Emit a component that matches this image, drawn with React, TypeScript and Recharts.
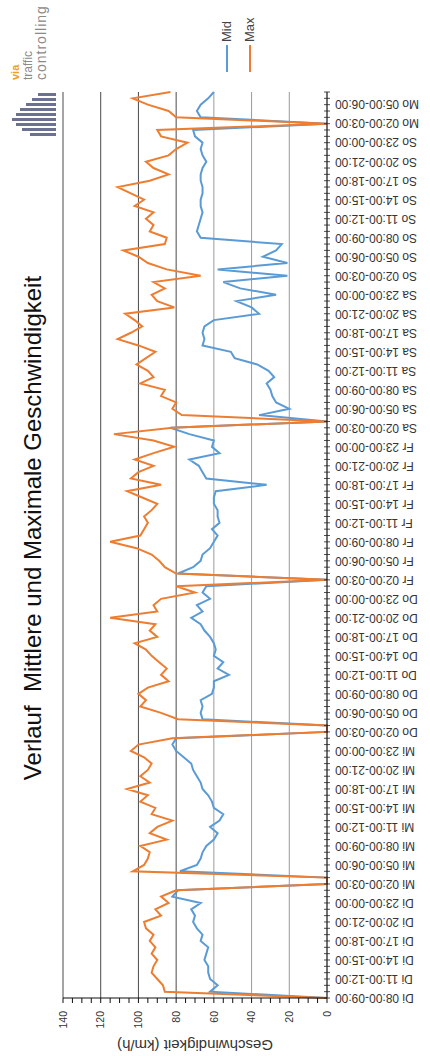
import React from 'react';
import { LineChart, Line, XAxis, YAxis, ReferenceLine, Legend } from 'recharts';

// hourly categories, Di 08:00 .. Mo 07:00
const dayNames = ['Di', 'Mi', 'Do', 'Fr', 'Sa', 'So', 'Mo'];
const startHour = 8;
const hourCount = 144;

const pad = (n: number) => String(n).padStart(2, '0');
const categories: string[] = Array.from({ length: hourCount }, (_, i) => {
  const h = (startHour + i) % 24;
  const d = Math.floor((startHour + i) / 24);
  return `${dayNames[d]} ${pad(h)}:00-${pad((h + 1) % 24)}:00`;
});

// mittlere Geschwindigkeit (km/h)
const midValues = [
  0, 62, 58, 62, 63, 63, 65, 64, 63, 67, 66, 69, 71, 70, 72, 67, 82, 79, 0, 0,
  78, 69, 67, 66, 64, 60, 58, 62, 57, 55, 60, 61, 63, 66, 67, 69, 71, 72, 76, 80,
  82, 80, 0, 0, 66, 67, 66, 67, 61, 60, 60, 52, 58, 55, 60, 59, 60, 62, 65, 67,
  72, 66, 69, 62, 66, 64, 0, 79, 71, 67, 66, 62, 60, 58, 61, 57, 58, 58, 60, 60,
  59, 32, 64, 66, 68, 73, 57, 61, 60, 73, 83, 0, 36, 20, 27, 29, 30, 32, 28, 31,
  37, 49, 51, 66, 65, 66, 65, 60, 36, 40, 48, 27, 46, 55, 21, 58, 21, 34, 27, 24,
  67, 69, 68, 67, 66, 67, 67, 66, 66, 67, 67, 66, 64, 66, 67, 66, 70, 71, 0, 67,
  69, 67, 63, 60,
];

// maximale Geschwindigkeit (km/h)
const maxValues = [
  0, 86, 87, 90, 93, 92, 90, 93, 91, 94, 92, 96, 97, 88, 91, 84, 88, 80, 0, 0,
  103, 97, 95, 94, 99, 85, 94, 90, 82, 93, 91, 99, 95, 106, 94, 99, 95, 93, 97, 104,
  100, 82, 0, 0, 79, 88, 99, 96, 100, 95, 84, 88, 85, 89, 93, 96, 102, 90, 94, 91,
  115, 90, 92, 88, 70, 80, 0, 80, 86, 89, 93, 101, 115, 99, 97, 95, 97, 93, 90, 98,
  106, 88, 104, 100, 92, 102, 92, 81, 92, 113, 82, 0, 77, 82, 80, 88, 86, 99, 92, 95,
  101, 96, 91, 100, 111, 104, 98, 102, 107, 81, 90, 93, 86, 92, 67, 85, 95, 100, 108, 86,
  85, 94, 92, 96, 92, 102, 97, 104, 111, 94, 84, 92, 96, 84, 80, 74, 88, 90, 0, 80,
  84, 95, 103, 83,
];

const valueTicks = [0, 5, 10, 15, 20, 25, 30, 35, 40, 45, 50, 55, 60, 65, 70, 75, 80, 85, 90, 95, 100, 105, 110, 115, 120, 125, 130, 135, 140];
const gridValues = [20, 40, 60, 80, 100, 120, 140];
const legendOrder = ['mid', 'max'];

const chartData = categories.map((label, i) => ({
  label,
  mid: midValues[i],
  max: maxValues[i],
}));

const FONT = '"Liberation Sans", Arial, sans-serif';

const CategoryTick = (props: any) => {
  const { x, y, payload, index } = props;
  const idx = payload && payload.index != null ? payload.index : index;
  return (
    <g>
      <line x1={x} x2={x} y1={y - 3} y2={y + 3} stroke="#222" strokeWidth={0.8} />
      {idx % 3 === 0 && (
        <text
          x={x}
          y={y + 8}
          transform={`rotate(-90, ${x}, ${y + 8})`}
          textAnchor="end"
          dy="0.35em"
          fontSize={12}
          fontFamily={FONT}
          fill="#333"
        >
          {payload.value}
        </text>
      )}
    </g>
  );
};

const renderLegend = (props: any) => {
  const items = [...(props.payload || [])].sort(
    (a: any, b: any) => legendOrder.indexOf(a.dataKey) - legendOrder.indexOf(b.dataKey)
  );
  return (
    <div style={{ position: 'relative', width: 0, height: 0 }}>
      {items.map((entry: any, k: number) => (
        <div
          key={entry.value}
          style={{
            position: 'absolute',
            left: 984,
            top: 218 + k * 23,
            display: 'flex',
            alignItems: 'center',
            whiteSpace: 'nowrap',
            fontFamily: FONT,
            fontSize: 13,
            color: '#444',
            lineHeight: '18px',
          }}
        >
          <span style={{ display: 'inline-block', width: 27, height: 2, background: entry.color, marginRight: 3 }} />
          <span>{entry.value}</span>
        </div>
      ))}
    </div>
  );
};

const logoBars = [
  { x: 2, h: 26 }, { x: 7, h: 34 }, { x: 12, h: 40 }, { x: 17, h: 44 }, { x: 22, h: 40 },
  { x: 27, h: 36 }, { x: 32, h: 30 }, { x: 37, h: 24 }, { x: 42, h: 18 },
];

export default function App() {
  return (
    <div style={{ position: 'absolute', left: 0, top: 0, width: 430, height: 1056, overflow: 'hidden', background: '#fff' }}>
      <div
        style={{
          position: 'absolute',
          left: 0,
          top: 0,
          width: 1056,
          height: 430,
          transformOrigin: '0 0',
          transform: 'translate(0px, 1056px) rotate(-90deg)',
          background: '#fff',
          fontFamily: FONT,
        }}
      >
        <div
          style={{
            position: 'absolute',
            left: 0,
            top: 19,
            width: 1056,
            textAlign: 'center',
            fontSize: 24,
            lineHeight: '28px',
            color: '#111',
            whiteSpace: 'pre',
          }}
        >
          {'Verlauf  Mittlere und Maximale Geschwindigkeit'}
        </div>

        <svg style={{ position: 'absolute', left: 918, top: 10 }} width={48} height={46}>
          {logoBars.map((b) => (
            <rect key={b.x} x={b.x} y={46 - b.h} width={3} height={b.h} fill="#6c7191" />
          ))}
        </svg>
        <div style={{ position: 'absolute', left: 976, top: 9, lineHeight: '13px', whiteSpace: 'nowrap' }}>
          <div style={{ fontSize: 11, fontWeight: 'bold', color: '#f0a020' }}>via</div>
          <div style={{ fontSize: 12, color: '#8a8a8a' }}>traffic</div>
          <div style={{ fontSize: 14, color: '#8a8a8a', letterSpacing: 1 }}>controlling</div>
        </div>

        <div style={{ position: 'absolute', left: 0, top: 0 }}>
          <LineChart
            width={1056}
            height={430}
            data={chartData}
            margin={{ top: 63, right: 92, bottom: 3, left: 0 }}
          >
            {gridValues.map((v) => (
              <ReferenceLine key={v} y={v} stroke={v >= 80 ? '#4a4a4a' : '#9a9a9a'} strokeWidth={1} />
            ))}
            <XAxis
              dataKey="label"
              interval={0}
              height={100}
              tickSize={0}
              tickMargin={0}
              tickLine={false}
              axisLine={{ stroke: '#111', strokeWidth: 1.2 }}
              tick={<CategoryTick />}
            />
            <YAxis
              type="number"
              domain={[0, 140]}
              ticks={valueTicks}
              interval={0}
              width={58}
              tickSize={5}
              tickMargin={8}
              tickFormatter={(v: number) => (v % 20 === 0 ? String(v) : '')}
              tick={{ fontSize: 10.5, fill: '#333', fontFamily: FONT }}
              tickLine={{ stroke: '#111' }}
              axisLine={{ stroke: '#111', strokeWidth: 1.2 }}
              label={{
                content: (p: any) => {
                  const vb = p.viewBox || { y: 63, height: 264 };
                  const cy = vb.y + vb.height / 2;
                  return (
                    <text
                      x={11}
                      y={cy}
                      transform={`rotate(-90, 11, ${cy})`}
                      textAnchor="middle"
                      dominantBaseline="central"
                      fontSize={15}
                      fontFamily={FONT}
                      fill="#333"
                    >
                      Geschwindigkeit (km/h)
                    </text>
                  );
                },
              }}
            />
            <Legend
              verticalAlign="top"
              align="left"
              layout="horizontal"
              wrapperStyle={{ top: 0, left: 0, width: 0, height: 0 }}
              content={renderLegend}
            />
            <Line
              type="linear"
              dataKey="mid"
              name="Mid"
              stroke="#5B9BD5"
              strokeWidth={2}
              dot={false}
              isAnimationActive={false}
            />
            <Line
              type="linear"
              dataKey="max"
              name="Max"
              stroke="#ED7D31"
              strokeWidth={2}
              dot={false}
              isAnimationActive={false}
            />
          </LineChart>
        </div>
      </div>
    </div>
  );
}
